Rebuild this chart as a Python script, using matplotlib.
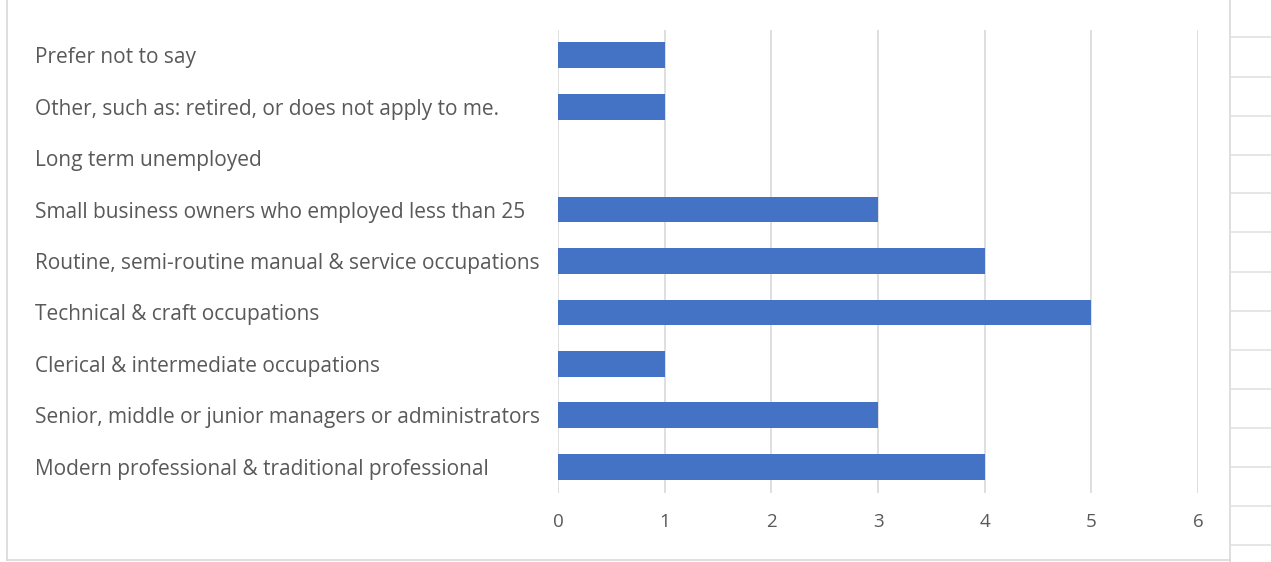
import matplotlib.pyplot as plt
from matplotlib.lines import Line2D

categories = [
    'Modern professional & traditional professional',
    'Senior, middle or junior managers or administrators',
    'Clerical & intermediate occupations',
    'Technical & craft occupations',
    'Routine, semi-routine manual & service occupations',
    'Small business owners who employed less than 25',
    'Long term unemployed',
    'Other, such as: retired, or does not apply to me.',
    'Prefer not to say',
]
counts = [4, 3, 1, 5, 4, 3, 0, 1, 1]
x_ticks = [0, 1, 2, 3, 4, 5, 6]

BAR = '#4472C4'
GRID = '#D9D9D9'
TEXT = '#595959'

plt.rcParams['font.family'] = ['Open Sans', 'DejaVu Sans']

W, H = 1271, 562
fig = plt.figure(figsize=(W / 100, H / 100), dpi=100)
ax = fig.add_axes([558 / W, 1 - 492.5 / H, (1198 - 558) / W, (492.5 - 29.5) / H])

ypos = range(len(categories))
ax.barh(ypos, counts, height=0.5, color=BAR, zorder=3)

ax.set_xlim(0, 6)
ax.set_ylim(-0.5, len(categories) - 0.5)
ax.set_xticks(x_ticks)
ax.set_xticklabels([str(t) for t in x_ticks], color=TEXT, fontsize=13.5)
ax.set_yticks(list(ypos))
ax.set_yticklabels(categories, color=TEXT, fontsize=15, ha='left')
ax.tick_params(axis='y', length=0, pad=(558 - 35) * 0.72)
ax.tick_params(axis='x', length=0, pad=15)
ax.grid(axis='x', color=GRID, linewidth=1.2, zorder=0)
for s in ax.spines.values():
    s.set_visible(False)

# chart frame and the sheet cells beside it
def pix_line(x0, y0, x1, y1, color='#D9D9D9', lw=1.2):
    fig.add_artist(Line2D([x0 / W, x1 / W], [1 - y0 / H, 1 - y1 / H],
                          color=color, linewidth=lw, transform=fig.transFigure))

pix_line(7, 0, 7, 560)
pix_line(7, 560, 1230, 560)
pix_line(1230, 0, 1230, 562)
for y in [37, 77, 116, 155, 193, 232, 272, 311, 350, 389, 428, 467, 506, 545]:
    pix_line(1231, y, W, y, color='#E1E1E1')

fig.savefig('out.png', dpi=100)
